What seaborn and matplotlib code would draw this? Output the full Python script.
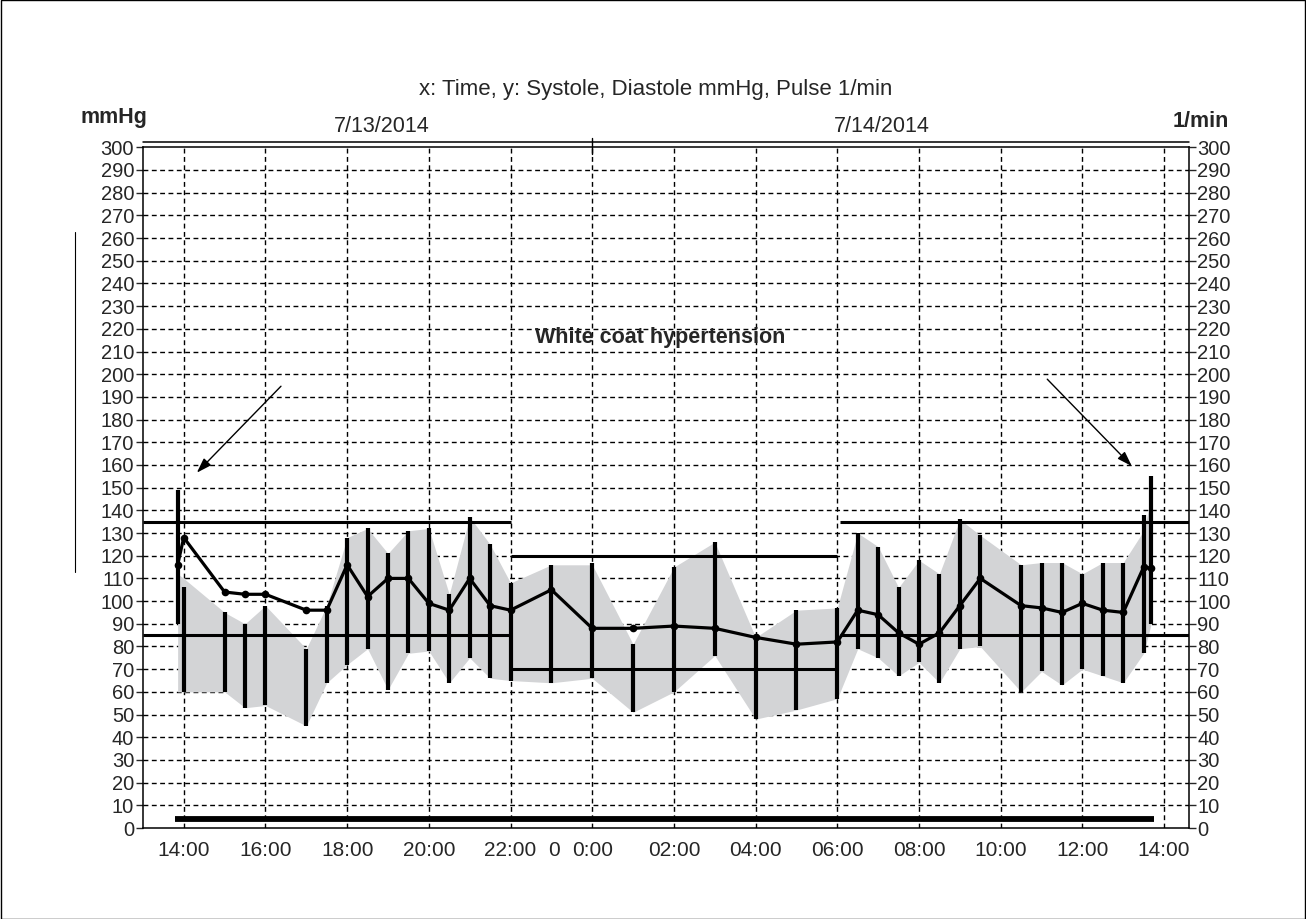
import matplotlib
matplotlib.use("Agg")
import matplotlib.pyplot as plt
import seaborn as sns
import pandas as pd
from matplotlib.lines import Line2D
from matplotlib.patches import Rectangle

# ---- data (hours since 7/13/2014 00:00) ----
times = [13.85, 14.0, 15.0, 15.5, 16.0, 17.0, 17.5, 18.0, 18.5, 19.0, 19.5, 20.0, 20.5,
         21.0, 21.5, 22.0, 23.0, 24.0, 25.0, 26.0, 27.0, 28.0, 29.0, 30.0, 30.5, 31.0,
         31.5, 32.0, 32.5, 33.0, 33.5, 34.5, 35.0, 35.5, 36.0, 36.5, 37.0, 37.5, 37.67]
systolic = [149, 106, 95, 90, 98, 79, 98, 128, 132, 121, 131, 132, 103,
            137, 125, 108, 116, 117, 81, 115, 126, 84, 96, 97, 130, 124,
            106, 118, 112, 136, 129, 116, 117, 117, 112, 117, 117, 138, 155]
diastolic = [90, 60, 60, 53, 54, 45, 64, 72, 79, 61, 77, 78, 64,
             75, 66, 65, 64, 66, 51, 60, 76, 48, 52, 57, 79, 75,
             67, 73, 64, 79, 80, 60, 69, 63, 70, 67, 64, 77, 90]
pulse = [116, 128, 104, 103, 103, 96, 96, 116, 102, 110, 110, 99, 96,
         110, 98, 96, 105, 88, 88, 89, 88, 84, 81, 82, 96, 94,
         86, 81, 86, 98, 110, 98, 97, 95, 99, 96, 95, 115, 114.5]
band_upper = [112, 110, 95, 90, 98, 79, 98, 128, 132, 121, 131, 132, 103,
              137, 125, 108, 116, 116, 81, 115, 126, 84, 96, 97, 130, 124,
              106, 118, 112, 136, 129, 116, 117, 117, 112, 117, 117, 131, 144]
band_lower = [60, 60, 60, 53, 54, 45, 64, 72, 79, 61, 77, 78, 64,
              75, 66, 65, 64, 66, 51, 60, 76, 48, 52, 57, 79, 75,
              67, 73, 64, 79, 80, 60, 69, 63, 70, 67, 64, 77, 89]

# limit periods: (start, end, upper, lower)
period_start = [12.99, 22.0, 30.07]
period_end = [22.0, 30.0, 38.61]
limit_upper = [135, 120, 135]
limit_lower = [85, 70, 85]

tick_hours = [14, 16, 18, 20, 22, 24, 26, 28, 30, 32, 34, 36, 38]
tick_labels = ["14:00", "16:00", "18:00", "20:00", "22:00", "0:00", "02:00",
               "04:00", "06:00", "08:00", "10:00", "12:00", "14:00"]
extra_tick = [23.07]
extra_label = ["0"]
y_ticks = list(range(0, 301, 10))
record_span = [13.78, 37.75]
record_level = 4
date_labels = ["7/13/2014", "7/14/2014"]

df = pd.DataFrame({"time": times, "sys": systolic, "dia": diastolic, "pulse": pulse,
                   "bu": band_upper, "bl": band_lower})

sns.set_style("ticks")
plt.rcParams["font.family"] = ["Liberation Sans", "DejaVu Sans"]
FS = 14.5
FT = 15.5

fig = plt.figure(figsize=(13.06, 9.19), dpi=100)
ax = fig.add_axes([142.5 / 1306, 1 - 828 / 919, (1189 - 142.5) / 1306, (828 - 147.3) / 919])
ax.set_xlim(12.99, 38.61)
ax.set_ylim(0, 300)

# grid
for yv in y_ticks[1:-1]:
    ax.axhline(yv, color="black", lw=1.0, ls=(0, (3.5, 2.5)), zorder=1)
for xv in tick_hours:
    ax.axvline(xv, color="black", lw=1.0, ls=(0, (3.5, 2.5)), zorder=1)

# gray band
ax.fill_between(df["time"], df["bl"], df["bu"], color="#d3d4d6", lw=0, zorder=2)

# limit lines
for s, e, u, l in zip(period_start, period_end, limit_upper, limit_lower):
    ax.plot([s, e], [u, u], color="black", lw=2.2, zorder=3, solid_capstyle="butt")
    ax.plot([s, e], [l, l], color="black", lw=2.2, zorder=3, solid_capstyle="butt")

# systolic/diastolic bars
ax.vlines(df["time"], df["dia"], df["sys"], color="black", lw=3.0, zorder=4)

# pulse
sns.lineplot(data=df, x="time", y="pulse", ax=ax, color="black", lw=2.3, sort=False,
             marker="o", markersize=5.5, markeredgewidth=0, zorder=5, legend=False)

# recording bar
ax.plot(record_span, [record_level, record_level], color="black", lw=4.2,
        solid_capstyle="butt", zorder=5)

# annotation
ax.text(25.66, 216, "White coat hypertension", fontsize=FT, fontweight="bold",
        ha="center", va="center", zorder=6)
arrow = dict(arrowstyle="-|>,head_length=0.9,head_width=0.3", color="black", lw=1.0,
             shrinkA=0, shrinkB=0)
ax.annotate("", xy=(14.32, 156.6), xytext=(16.38, 194.7), arrowprops=arrow)
ax.annotate("", xy=(37.21, 159.5), xytext=(35.14, 197.8), arrowprops=arrow)

# ticks
ax.set_xticks(tick_hours)
ax.set_xticklabels(tick_labels)
ax.set_xticks(extra_tick, minor=True)
ax.set_xticklabels(extra_label, minor=True)
ax.tick_params(axis="x", which="both", length=0, pad=9, labelsize=FS + 0.5)
ax.set_yticks(y_ticks)
ax.set_yticklabels([str(v) for v in y_ticks])
ax.tick_params(axis="y", which="both", left=True, right=True, labelleft=True,
               labelright=True, length=5, width=1.0, pad=1, labelsize=FS)
ax.set_xlabel("")
ax.set_ylabel("")
for sp in ax.spines.values():
    sp.set_linewidth(1.1)
    sp.set_color("black")

# midnight marker on top and date bar line
ax.plot([24, 24], [297, 304], color="black", lw=1.0, clip_on=False)
ax.plot([12.99, 38.61], [302.2, 302.2], color="black", lw=1.1, clip_on=False)

# texts
fig.text(656 / 1306, 1 - 90 / 919, "x: Time, y: Systole, Diastole mmHg, Pulse 1/min",
         fontsize=FT + 0.5, ha="center", va="center")
fig.text(382 / 1306, 1 - 127 / 919, date_labels[0], fontsize=FT, ha="center", va="center")
fig.text(882 / 1306, 1 - 127 / 919, date_labels[1], fontsize=FT, ha="center", va="center")
fig.text(114 / 1306, 1 - 118 / 919, "mmHg", fontsize=FT, fontweight="bold", ha="center", va="center")
fig.text(1201 / 1306, 1 - 121 / 919, "1/min", fontsize=FT, fontweight="bold", ha="center", va="center")

# stray vertical line and frame
fig.add_artist(Line2D([75 / 1306, 75 / 1306], [1 - 232 / 919, 1 - 572 / 919], color="black", lw=0.8))
fig.add_artist(Rectangle((0.0005, 0.0005), 0.999, 0.999, transform=fig.transFigure,
                         fill=False, edgecolor="black", lw=1.0))

fig.savefig("out.png", dpi=100)
